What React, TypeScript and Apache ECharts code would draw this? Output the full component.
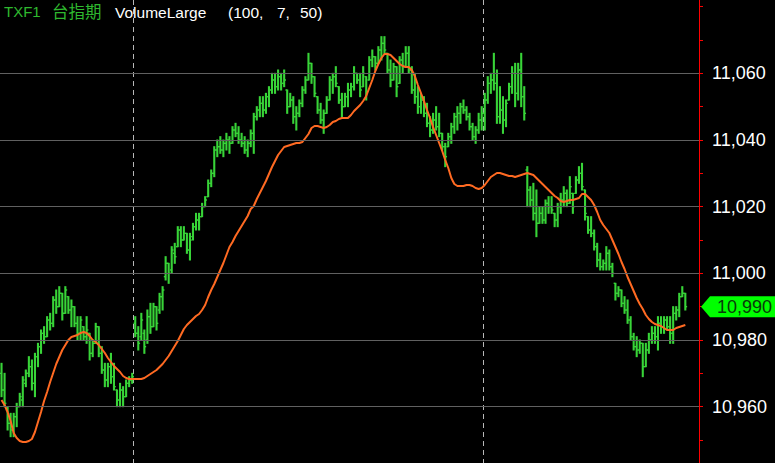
import React, { useEffect, useRef } from "react";
import * as echarts from "echarts";

// OHLC bars: [open, high, low, close]
const ohlc: number[][] = [
  [10970, 10973, 10963, 10965], [10965, 10970, 10960, 10961], [10959, 10960, 10953, 10955], [10955, 10958, 10951, 10953],
  [10953, 10958, 10951, 10957], [10957, 10961, 10954, 10960], [10960, 10964, 10960, 10963], [10962, 10969, 10960, 10968],
  [10967, 10971, 10966, 10970], [10970, 10975, 10969, 10972], [10972, 10974, 10965, 10967], [10967, 10976, 10963, 10975],
  [10975, 10979, 10972, 10978], [10978, 10983, 10976, 10982], [10982, 10984, 10979, 10981], [10981, 10987, 10981, 10986],
  [10986, 10988, 10983, 10985], [10985, 10993, 10984, 10992], [10992, 10995, 10988, 10990], [10990, 10996, 10990, 10994],
  [10994, 10994, 10986, 10988], [10988, 10996, 10988, 10995], [10993, 10993, 10988, 10989], [10989, 10992, 10984, 10990],
  [10990, 10990, 10984, 10985], [10985, 10987, 10980, 10982], [10982, 10987, 10980, 10986], [10984, 10984, 10980, 10981],
  [10981, 10987, 10979, 10983], [10982, 10982, 10974, 10976], [10976, 10980, 10975, 10979], [10979, 10985, 10979, 10984],
  [10984, 10984, 10975, 10976], [10976, 10978, 10970, 10971], [10971, 10973, 10966, 10968], [10968, 10973, 10966, 10972],
  [10972, 10976, 10967, 10969], [10969, 10973, 10965, 10966], [10965, 10965, 10960, 10962], [10962, 10967, 10960, 10965],
  [10965, 10966, 10960, 10963], [10963, 10968, 10963, 10967], [10967, 10969, 10966, 10968], [10968, 10970, 10967, 10969],
  [10985, 10987, 10981, 10982], [10982, 10984, 10977, 10979], [10981, 10988, 10980, 10986], [10982, 10983, 10976, 10978],
  [10980, 10989, 10979, 10987], [10987, 10991, 10982, 10984], [10984, 10991, 10984, 10990], [10990, 10990, 10983, 10985],
  [10989, 10994, 10988, 10993], [10993, 10996, 10989, 10995], [10999, 11005, 10998, 11003], [11003, 11003, 10997, 11000],
  [11001, 11008, 11000, 11007], [11006, 11009, 11003, 11005], [11008, 11014, 11008, 11013], [11013, 11014, 11008, 11010],
  [11010, 11014, 11010, 11012], [11012, 11012, 11006, 11007], [11007, 11012, 11004, 11010], [11011, 11015, 11010, 11014],
  [11014, 11018, 11013, 11016], [11016, 11018, 11013, 11017], [11017, 11021, 11017, 11020], [11020, 11023, 11020, 11022],
  [11023, 11028, 11023, 11027], [11027, 11031, 11026, 11030], [11030, 11038, 11029, 11037], [11037, 11040, 11035, 11038],
  [11038, 11041, 11036, 11037], [11037, 11040, 11035, 11039], [11039, 11042, 11037, 11040], [11040, 11041, 11036, 11039],
  [11039, 11044, 11039, 11043], [11043, 11045, 11041, 11042], [11042, 11044, 11039, 11040], [11040, 11042, 11038, 11039],
  [11039, 11041, 11036, 11037], [11037, 11040, 11035, 11039], [11039, 11043, 11038, 11042], [11042, 11048, 11036, 11047],
  [11047, 11050, 11046, 11049], [11049, 11053, 11047, 11051], [11051, 11053, 11047, 11049], [11049, 11054, 11048, 11053],
  [11053, 11056, 11050, 11055], [11055, 11060, 11054, 11058], [11058, 11060, 11054, 11056], [11056, 11061, 11055, 11059],
  [11059, 11060, 11055, 11057], [11057, 11061, 11056, 11058], [11055, 11055, 11048, 11050], [11050, 11054, 11050, 11052],
  [11052, 11053, 11045, 11047], [11047, 11050, 11043, 11048], [11048, 11052, 11047, 11051], [11051, 11056, 11050, 11055],
  [11055, 11059, 11054, 11058], [11058, 11066, 11058, 11063], [11063, 11063, 11057, 11059], [11059, 11059, 11053, 11054],
  [11053, 11053, 11048, 11049], [11049, 11051, 11045, 11046], [11046, 11049, 11042, 11048], [11048, 11053, 11048, 11052],
  [11052, 11059, 11052, 11058], [11058, 11060, 11054, 11059], [11059, 11062, 11056, 11057], [11056, 11056, 11051, 11052],
  [11052, 11054, 11047, 11050], [11050, 11054, 11050, 11053], [11053, 11057, 11050, 11055], [11055, 11057, 11053, 11056],
  [11056, 11062, 11055, 11060], [11060, 11060, 11057, 11058], [11058, 11060, 11053, 11055], [11056, 11062, 11056, 11060],
  [11059, 11059, 11052, 11054], [11058, 11065, 11058, 11064], [11064, 11067, 11062, 11065], [11065, 11065, 11061, 11063],
  [11063, 11068, 11063, 11067], [11067, 11071, 11064, 11069], [11069, 11071, 11066, 11067], [11066, 11066, 11060, 11061],
  [11061, 11064, 11056, 11058], [11058, 11063, 11058, 11062], [11062, 11062, 11053, 11056], [11057, 11065, 11057, 11064],
  [11064, 11066, 11060, 11062], [11062, 11068, 11062, 11066], [11066, 11068, 11060, 11061], [11061, 11062, 11054, 11055],
  [11055, 11060, 11051, 11053], [11053, 11056, 11048, 11050], [11050, 11054, 11048, 11052], [11052, 11053, 11047, 11048],
  [11048, 11051, 11044, 11045], [11045, 11047, 11041, 11043], [11043, 11048, 11042, 11046], [11046, 11050, 11043, 11044],
  [11044, 11048, 11041, 11042], [11042, 11042, 11037, 11038], [11038, 11039, 11032, 11035], [11038, 11042, 11038, 11041],
  [11041, 11045, 11039, 11044], [11044, 11048, 11042, 11047], [11047, 11050, 11043, 11048], [11048, 11051, 11045, 11050],
  [11050, 11052, 11048, 11049], [11049, 11050, 11046, 11047], [11047, 11048, 11043, 11044], [11044, 11045, 11040, 11041],
  [11041, 11044, 11039, 11043], [11043, 11048, 11042, 11046], [11046, 11050, 11043, 11048], [11048, 11054, 11043, 11052],
  [11052, 11059, 11051, 11057], [11057, 11060, 11054, 11058], [11058, 11066, 11055, 11057], [11057, 11061, 11045, 11047],
  [11047, 11056, 11045, 11049], [11049, 11053, 11042, 11046], [11046, 11052, 11044, 11051], [11052, 11057, 11052, 11056],
  [11056, 11062, 11054, 11060], [11060, 11063, 11050, 11054], [11054, 11063, 11052, 11061], [11061, 11066, 11050, 11053],
  [11053, 11056, 11046, 11048], [11031, 11032, 11020, 11025], [11025, 11026, 11020, 11022], [11022, 11027, 11016, 11018],
  [11018, 11025, 11011, 11015], [11015, 11020, 11015, 11018], [11018, 11020, 11015, 11016], [11016, 11022, 11015, 11021],
  [11021, 11023, 11018, 11020], [11020, 11023, 11018, 11019], [11018, 11018, 11014, 11016], [11016, 11021, 11014, 11020],
  [11020, 11024, 11018, 11022], [11022, 11026, 11020, 11024], [11024, 11025, 11020, 11021], [11021, 11029, 11021, 11026],
  [11024, 11024, 11018, 11020], [11024, 11029, 11024, 11028], [11028, 11032, 11027, 11030], [11030, 11033, 11025, 11026],
  [11025, 11025, 11016, 11018], [11017, 11017, 11012, 11013], [11013, 11017, 11011, 11012], [11012, 11013, 11007, 11008],
  [11008, 11009, 11002, 11004], [11004, 11006, 11001, 11002], [11002, 11004, 11001, 11003], [11003, 11008, 11001, 11006],
  [11006, 11007, 11001, 11002], [11002, 11003, 10999, 11000], [10997, 10997, 10992, 10994], [10994, 10996, 10993, 10995],
  [10995, 10995, 10990, 10991], [10991, 10993, 10988, 10989], [10989, 10992, 10985, 10986], [10986, 10987, 10980, 10981],
  [10981, 10982, 10977, 10978], [10978, 10981, 10975, 10977], [10977, 10980, 10976, 10979], [10979, 10979, 10969, 10972],
  [10972, 10979, 10972, 10977], [10977, 10982, 10976, 10980], [10980, 10984, 10979, 10982], [10982, 10984, 10979, 10981],
  [10981, 10987, 10977, 10985], [10985, 10987, 10982, 10984], [10984, 10987, 10982, 10986], [10986, 10987, 10983, 10984],
  [10984, 10987, 10979, 10982], [10982, 10990, 10979, 10988], [10988, 10990, 10986, 10989], [10989, 10994, 10987, 10993],
  [10993, 10996, 10993, 10994], [10994, 10994, 10989, 10990],
];

// Orange average line, one value per bar
const ma: number[] = [
  10962.0, 10960.5, 10958.4, 10955.7, 10952.1, 10950.6, 10949.7, 10949.4, 10949.4, 10949.7,
  10950.3, 10952.4, 10955.4, 10958.4, 10961.7, 10964.4, 10967.4, 10970.1, 10972.8, 10974.9,
  10977.0, 10978.5, 10980.0, 10980.9, 10981.2, 10981.5, 10982.1, 10982.4, 10982.1, 10981.2,
  10980.0, 10979.4, 10978.5, 10977.3, 10976.1, 10974.6, 10973.4, 10972.2, 10971.3, 10970.4,
  10969.2, 10968.6, 10968.3, 10968.3, 10968.3, 10968.3, 10968.3, 10968.6, 10969.2, 10969.8,
  10970.4, 10971.0, 10971.9, 10972.8, 10974.0, 10975.2, 10976.7, 10978.2, 10979.7, 10981.5,
  10983.3, 10984.5, 10985.4, 10986.3, 10987.2, 10987.8, 10989.0, 10990.5, 10992.9, 10995.0,
  10996.8, 10998.9, 11001.0, 11003.1, 11005.5, 11007.9, 11009.4, 11011.2, 11012.7, 11014.2,
  11015.7, 11017.2, 11019.3, 11020.2, 11022.3, 11024.1, 11025.9, 11027.7, 11029.8, 11031.9,
  11033.7, 11035.5, 11036.7, 11037.9, 11038.2, 11038.5, 11038.8, 11039.1, 11039.1, 11039.4,
  11040.6, 11041.8, 11043.6, 11044.2, 11044.2, 11043.9, 11043.6, 11043.9, 11044.5, 11045.4,
  11045.7, 11046.3, 11046.6, 11046.6, 11046.6, 11047.5, 11048.7, 11049.6, 11050.5, 11051.7,
  11053.2, 11055.6, 11058.0, 11060.7, 11062.8, 11064.6, 11065.8, 11065.8, 11065.5, 11064.6,
  11063.7, 11062.8, 11062.2, 11061.9, 11061.9, 11061.0, 11059.2, 11056.5, 11054.1, 11051.7,
  11049.0, 11046.6, 11043.9, 11041.5, 11039.1, 11036.7, 11034.0, 11031.6, 11028.6, 11026.8,
  11026.2, 11026.2, 11026.2, 11026.5, 11026.5, 11026.2, 11025.6, 11025.3, 11025.6, 11026.5,
  11027.7, 11028.9, 11029.5, 11030.1, 11030.1, 11029.8, 11029.5, 11029.2, 11029.2, 11028.9,
  11029.2, 11029.5, 11029.8, 11030.1, 11029.8, 11029.5, 11028.6, 11027.7, 11026.8, 11025.9,
  11025.0, 11024.1, 11023.2, 11022.6, 11021.7, 11021.4, 11021.7, 11022.0, 11022.0, 11022.3,
  11022.6, 11023.8, 11023.8, 11022.9, 11022.0, 11020.5, 11018.4, 11016.0, 11014.5, 11013.3,
  11012.1, 11010.0, 11007.9, 11005.8, 11003.4, 11001.3, 10998.9, 10996.8, 10994.7, 10992.6,
  10990.8, 10989.3, 10987.5, 10986.3, 10985.4, 10984.8, 10984.5, 10984.2, 10983.6, 10983.0,
  10983.0, 10983.0, 10983.6, 10983.9, 10984.2, 10984.5,
];

const gridLevels = [10960, 10980, 11000, 11020, 11040, 11060];
const sessionBreaks = [44, 159];
const lastPrice = 10990;
const yMin = 10943.1;
const yMax = 11082;
const slotCount = 230;

const GREEN = "#38d438";
const ORANGE = "#ff6a22";
const FONT = "'Liberation Sans', Arial, sans-serif";

export default function App() {
  const ref = useRef<HTMLDivElement>(null);

  useEffect(() => {
    const el = ref.current;
    if (!el) return;
    const chart = echarts.init(el, null, { renderer: "svg" });
    const categories = Array.from({ length: slotCount }, (_, i) => String(i));
    const barData = ohlc.map((d, i) => [i, d[0], d[1], d[2], d[3]]);

    const renderItem = (params: any, api: any) => {
      const idx = api.value(0);
      const pO = api.coord([idx, api.value(1)]);
      const pH = api.coord([idx, api.value(2)]);
      const pL = api.coord([idx, api.value(3)]);
      const pC = api.coord([idx, api.value(4)]);
      const x = pH[0];
      return {
        type: "group",
        children: [
          { type: "line", shape: { x1: x, y1: pH[1] - 0.5, x2: x, y2: pL[1] + 0.5 }, style: { stroke: GREEN, lineWidth: 2.1 } },
          { type: "line", shape: { x1: x - 1.8, y1: pO[1], x2: x, y2: pO[1] }, style: { stroke: GREEN, lineWidth: 1.4 } },
          { type: "line", shape: { x1: x, y1: pC[1], x2: x + 1.8, y2: pC[1] }, style: { stroke: GREEN, lineWidth: 1.4 } },
        ],
      };
    };

    chart.setOption({
      animation: false,
      backgroundColor: "#000000",
      grid: { left: 0, right: 76, top: 0, bottom: 0 },
      xAxis: {
        type: "category",
        data: categories,
        boundaryGap: true,
        axisLine: { show: false },
        axisTick: { show: false },
        axisLabel: { show: false },
        splitLine: {
          show: true,
          interval: (i: number) => sessionBreaks.includes(i),
          lineStyle: { color: "#b8b8b8", type: [5, 4], width: 1 },
        },
      },
      yAxis: {
        type: "value",
        position: "right",
        min: yMin,
        max: yMax,
        splitNumber: 14,
        axisLine: { show: true, lineStyle: { color: "#ff0000", width: 1 } },
        axisTick: { show: true, length: 4, lineStyle: { color: "#ff0000" } },
        minorTick: { show: false },
        splitLine: { show: false },
        axisLabel: {
          color: "#ffffff",
          fontSize: 18,
          fontFamily: FONT,
          margin: 13,
          showMinLabel: false,
          showMaxLabel: false,
          formatter: (v: number) => (gridLevels.includes(v) ? v.toLocaleString("en-US") : ""),
        },
      },
      series: [
        {
          type: "line",
          data: [],
          z: 1,
          silent: true,
          markLine: {
            silent: true,
            symbol: ["none", "none"],
            label: { show: false },
            lineStyle: { color: "#606060", type: "solid", width: 1 },
            data: gridLevels.map((v) => ({ yAxis: v })),
          },
        },
        {
          type: "custom",
          z: 2,
          renderItem,
          data: barData,
          encode: { x: 0, y: [1, 2, 3, 4] },
        },
        {
          type: "line",
          z: 3,
          data: ma,
          symbol: "none",
          smooth: false,
          lineStyle: { color: ORANGE, width: 2 },
          itemStyle: { color: ORANGE },
        },
      ],
    });

    const yPix = chart.convertToPixel({ yAxisIndex: 0 }, lastPrice) as number;
    const axisX = chart.getWidth() - 76;
    const W = chart.getWidth();
    const hh = 10.5;
    chart.setOption({
      graphic: [
        { type: "text", left: 4, top: 4, style: { text: "TXF1", fill: "#2fb82f", font: `15px ${FONT}` } },
        { type: "text", left: 52, top: 3, style: { text: "台指期", fill: "#2fb82f", font: "16.5px 'Noto Sans CJK TC', sans-serif" } },
        { type: "text", left: 115, top: 4, style: { text: "VolumeLarge", fill: "#ffffff", font: `15.5px ${FONT}` } },
        { type: "text", left: 228, top: 4, style: { text: "(100,", fill: "#ffffff", font: `15.5px ${FONT}` } },
        { type: "text", left: 277, top: 4, style: { text: "7,", fill: "#ffffff", font: `15.5px ${FONT}` } },
        { type: "text", left: 300, top: 4, style: { text: "50)", fill: "#ffffff", font: `15.5px ${FONT}` } },
        {
          type: "polygon",
          z: 10,
          shape: {
            points: [
              [axisX + 2, yPix],
              [axisX + 11, yPix - hh],
              [W, yPix - hh],
              [W, yPix + hh],
              [axisX + 11, yPix + hh],
            ],
          },
          style: { fill: "#00ff00" },
        },
        {
          type: "text",
          z: 11,
          x: W - 3,
          y: yPix,
          style: {
            text: lastPrice.toLocaleString("en-US"),
            fill: "#0a3a0a",
            font: `18px ${FONT}`,
            textAlign: "right",
            textVerticalAlign: "middle",
          },
        },
      ],
    });

    return () => chart.dispose();
  }, []);

  return (
    <div
      ref={ref}
      style={{ position: "fixed", left: 0, top: 0, width: 775, height: 463, background: "#000" }}
    />
  );
}
